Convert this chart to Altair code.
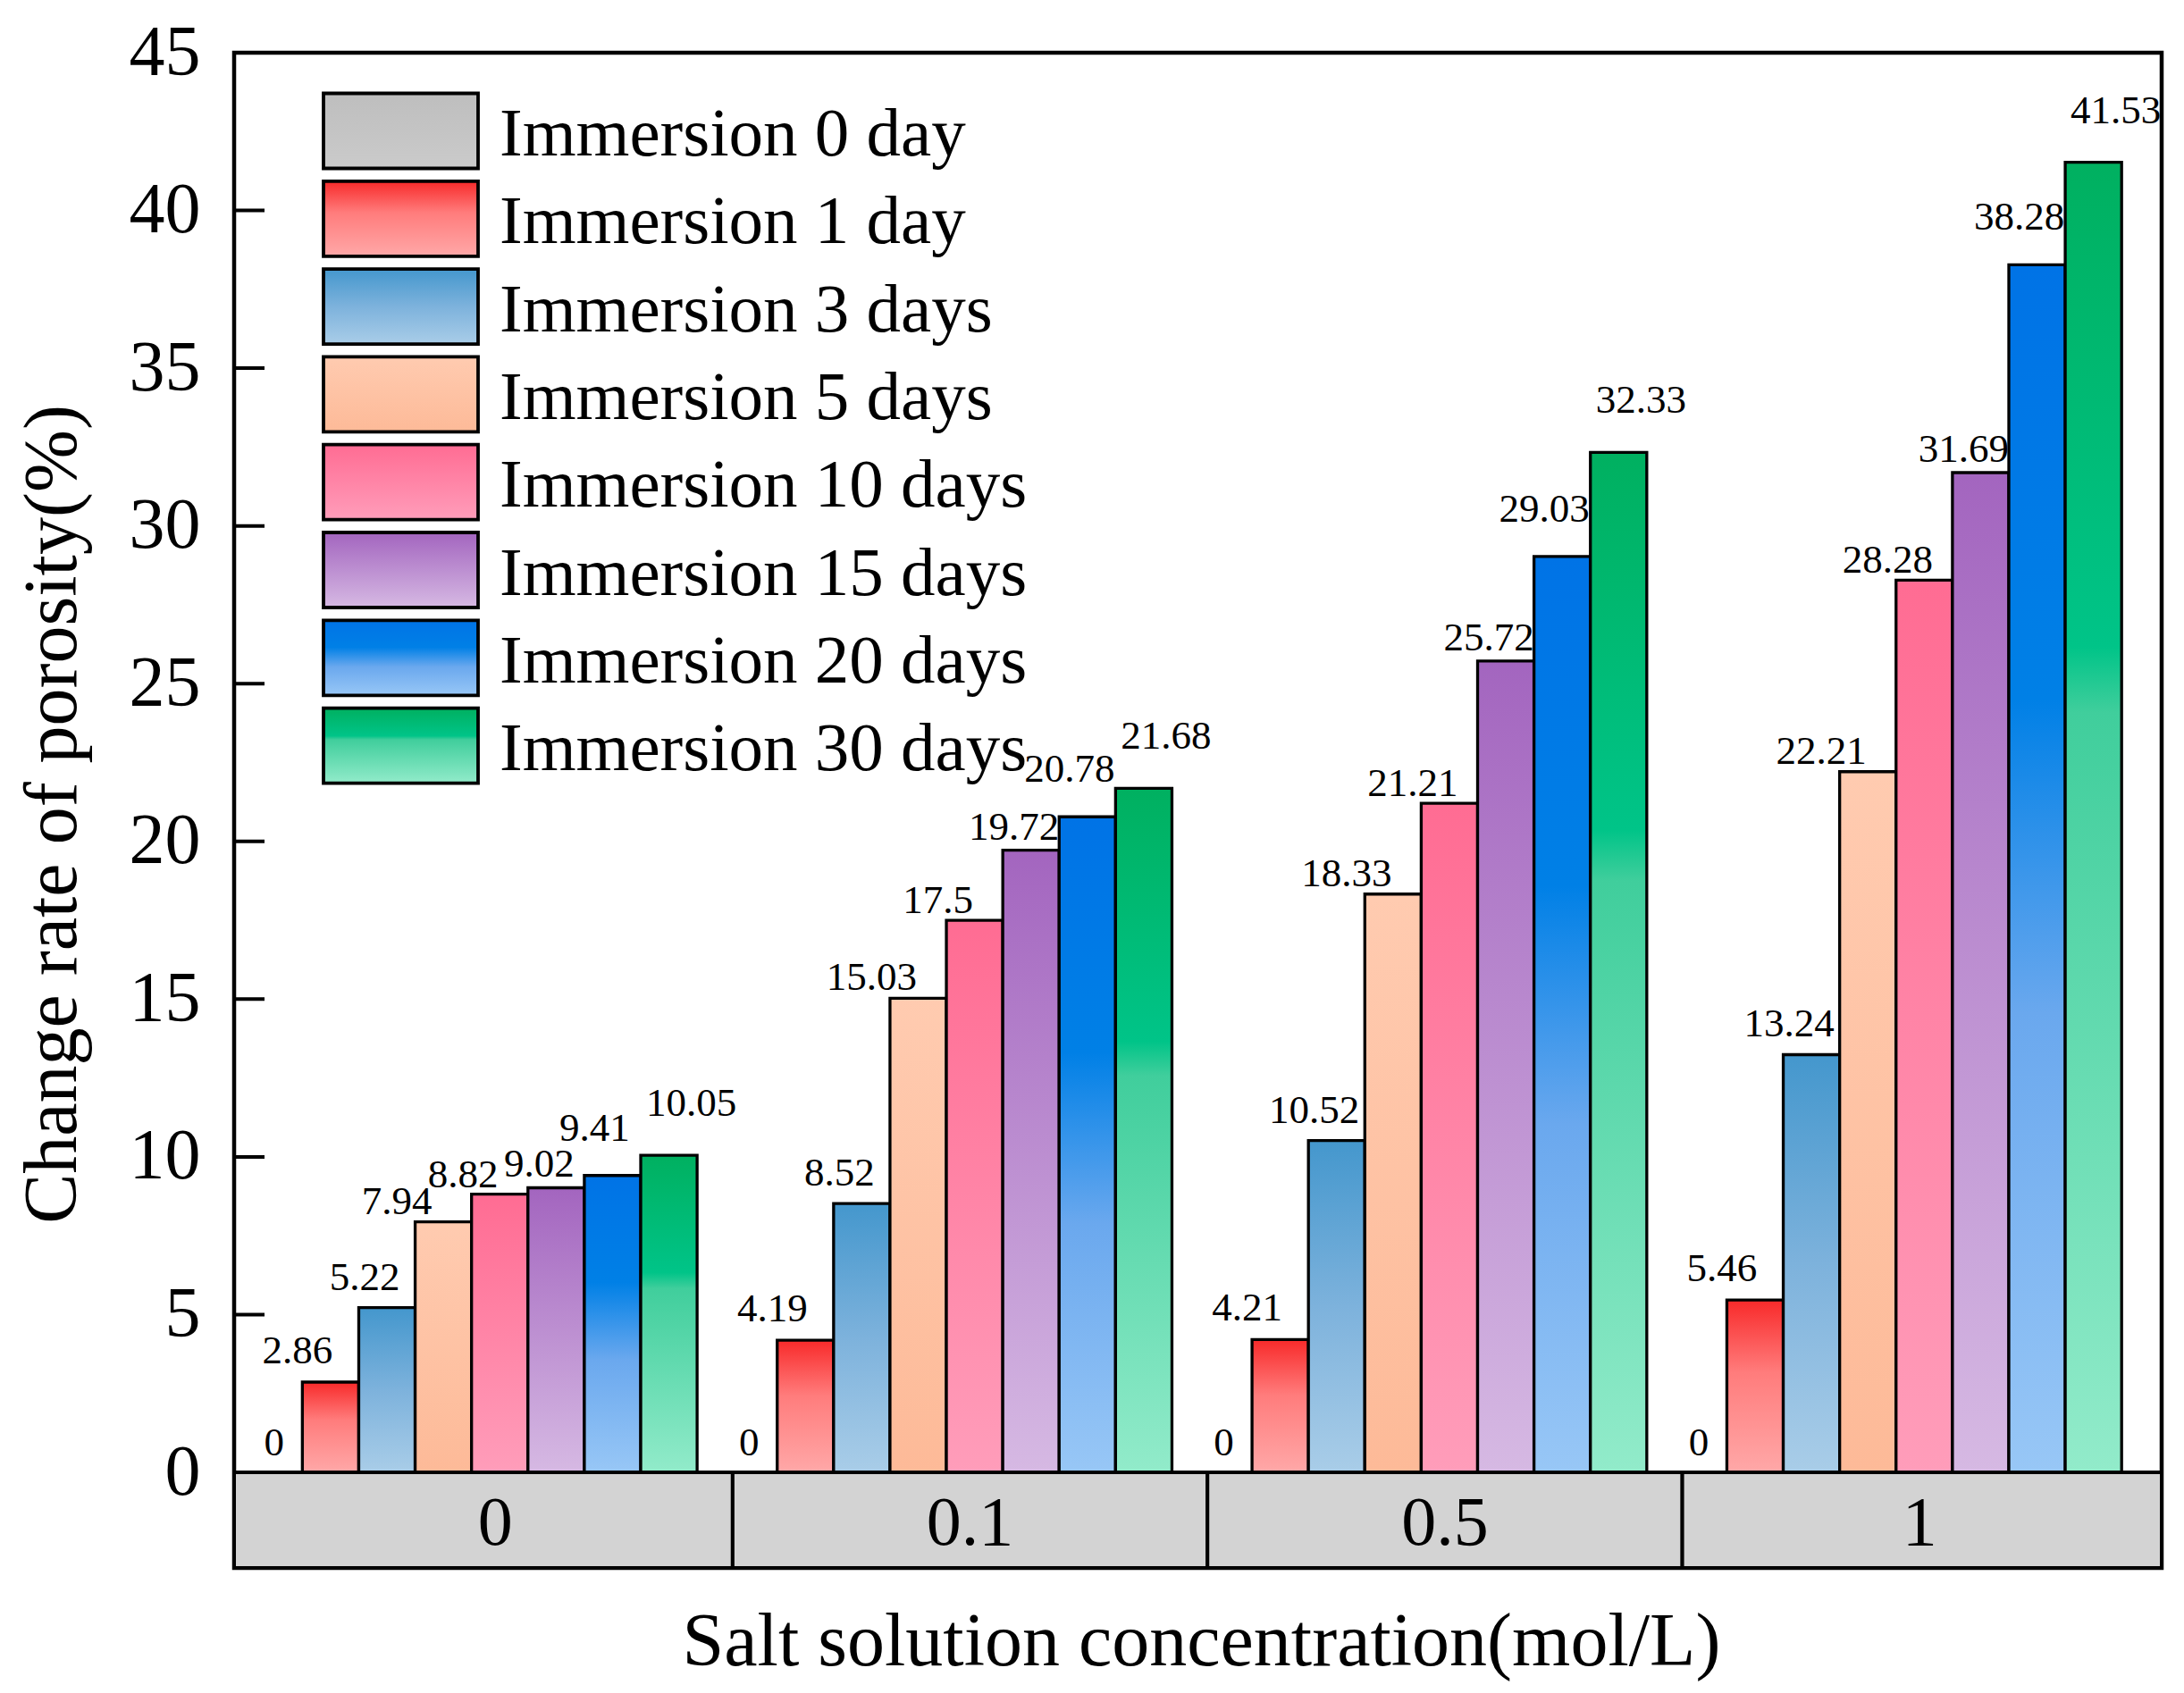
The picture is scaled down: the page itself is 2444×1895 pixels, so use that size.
import altair as alt
import pandas as pd

# ---------------- data ----------------
concentrations = ["0", "0.1", "0.5", "1"]
series = ["Immersion 0 day", "Immersion 1 day", "Immersion 3 days", "Immersion 5 days",
          "Immersion 10 days", "Immersion 15 days", "Immersion 20 days", "Immersion 30 days"]
v_0d = [0, 0, 0, 0]
v_1d = [2.86, 4.19, 4.21, 5.46]
v_3d = [5.22, 8.52, 10.52, 13.24]
v_5d = [7.94, 15.03, 18.33, 22.21]
v_10d = [8.82, 17.5, 21.21, 28.28]
v_15d = [9.02, 19.72, 25.72, 31.69]
v_20d = [9.41, 20.78, 29.03, 38.28]
v_30d = [10.05, 21.68, 32.33, 41.53]
values = [v_0d, v_1d, v_3d, v_5d, v_10d, v_15d, v_20d, v_30d]
y_ticks = [0, 5, 10, 15, 20, 25, 30, 35, 40, 45]

# ---------------- styles ----------------
gradients = [
    [("#BEBEBE", 0), ("#C4C4C4", 0.5), ("#CBCBCB", 1)],
    [("#F82A2A", 0), ("#FF7C7C", 0.42), ("#FFA8A8", 1)],
    [("#4497CD", 0), ("#7DB2DC", 0.5), ("#A9CDE8", 1)],
    [("#FFCBB0", 0), ("#FDBA98", 1)],
    [("#FF6C93", 0), ("#FF9DBA", 1)],
    [("#A365BF", 0), ("#D6B9E3", 1)],
    [("#0073E6", 0), ("#0080E6", 0.36), ("#6AA8EE", 0.62), ("#98C7F6", 1)],
    [("#00B060", 0), ("#00C488", 0.37), ("#40CE9C", 0.42), ("#92EBCA", 1)],
]
label_dx = [0, -37, -25, -52, -41, -19, -20, 25]
label_gap = [19, 21, 20, 9, 8, 12, 39, 44]

FONT = "Liberation Serif"
W, H = 2157, 1696
X_MAX = 34.18          # plot width measured in bar widths
GROUP_STEP = 8.42
FIRST = 0.21
CELL0 = 0.42
Y_MIN, Y_MAX = -3.03, 45

rows = []
for si, s in enumerate(series):
    for gi, c in enumerate(concentrations):
        v = values[si][gi]
        x0 = FIRST + gi * GROUP_STEP + si
        rows.append({"series": s, "conc": c, "value": v, "x0": x0, "x1": x0 + 1,
                     "xc": x0 + 0.5, "y0": 0, "label": f"{v:g}"})
df = pd.DataFrame(rows)

n = len(concentrations)
band = pd.DataFrame({
    "conc": concentrations,
    "xa": [0 if i == 0 else CELL0 + i * GROUP_STEP for i in range(n)],
    "xb": [X_MAX if i == n - 1 else CELL0 + (i + 1) * GROUP_STEP for i in range(n)],
    "xm": [CELL0 + (i + 0.5) * GROUP_STEP for i in range(n)],
})
band["ya"] = Y_MIN
band["yb"] = 0
band["ym"] = Y_MIN / 2

xscale = alt.Scale(domain=[0, X_MAX], nice=False, zero=False)
yscale = alt.Scale(domain=[Y_MIN, Y_MAX], nice=False, zero=False)
xaxis = alt.Axis(labels=False, ticks=False, domain=False, grid=False,
                 title="Salt solution concentration(mol/L)", titleFont=FONT,
                 titleFontSize=84, titleFontWeight="normal", titleColor="black",
                 titleBaseline="alphabetic", titleY=108, titleX=1082)
yaxis = alt.Axis(values=y_ticks, ticks=False, tickSize=0, domain=False, grid=False,
                 labelFont=FONT, labelFontSize=80, labelColor="black", labelPadding=38,
                 title="Change rate of porosity(%)", titleFont=FONT, titleFontSize=84,
                 titleFontWeight="normal", titleColor="black", titleAngle=-90,
                 titleAlign="center", titleBaseline="middle", titleX=-203, titleY=852)


def X(f):
    return alt.X(f, type="quantitative", scale=xscale, axis=xaxis)


def Y(f):
    return alt.Y(f, type="quantitative", scale=yscale, axis=yaxis)


def grad(stops):
    return alt.Gradient(gradient="linear",
                        stops=[alt.GradientStop(color=c, offset=o) for c, o in stops],
                        x1=0, x2=0, y1=0, y2=1)


layers = []
LEG_X0, LEG_X1 = 100, 273
LEG_TOP, LEG_H, LEG_STEP = 45.5, 84, 98.3
for si, s in enumerate(series):
    sub = df[df["series"] == s]
    bars = alt.Chart(sub).mark_rect(fill=grad(gradients[si]), stroke="black",
                                    strokeWidth=3.3).encode(
        x=X("x0"), x2="x1", y=Y("value"), y2="y0")
    txt = alt.Chart(sub).mark_text(font=FONT, fontSize=45, color="black", align="center",
                                   baseline="alphabetic", dx=label_dx[si],
                                   dy=-label_gap[si]).encode(
        x=X("xc"), y=Y("value"), text="label:N")
    leg = pd.DataFrame({"label": [s]})
    top = LEG_TOP + si * LEG_STEP
    sw = alt.Chart(leg).mark_rect(fill=grad(gradients[si]), stroke="black",
                                  strokeWidth=3.8).encode(
        x=alt.value(LEG_X0), x2=alt.value(LEG_X1), y=alt.value(top), y2=alt.value(top + LEG_H))
    lt = alt.Chart(leg).mark_text(font=FONT, fontSize=77, color="black", align="left",
                                  baseline="alphabetic").encode(
        x=alt.value(297), y=alt.value(top + 69.5), text="label:N")
    layers += [bars, txt, sw, lt]

band_rect = alt.Chart(band).mark_rect(fill="#D3D3D3", stroke="black", strokeWidth=4).encode(
    x=X("xa"), x2="xb", y=Y("ya"), y2="yb")
band_text = alt.Chart(band).mark_text(font=FONT, fontSize=78, color="black",
                                      baseline="middle", dy=4).encode(
    x=X("xm"), y=Y("ym"), text="conc:N")

ticks = alt.Chart(pd.DataFrame({"t": y_ticks})).mark_rule(stroke="black", strokeWidth=4).encode(
    y=Y("t"), x=alt.value(0), x2=alt.value(34))

chart = alt.layer(*layers, band_rect, band_text, ticks).properties(
    width=W, height=H,
    autosize=alt.AutoSizeParams(type="none"),
    padding={"left": 254, "top": 51, "right": 17, "bottom": 132},
    background="white",
).configure_view(stroke="black", strokeWidth=4.5)

chart.save("out.html", embed_options={"renderer": "svg", "actions": False})
